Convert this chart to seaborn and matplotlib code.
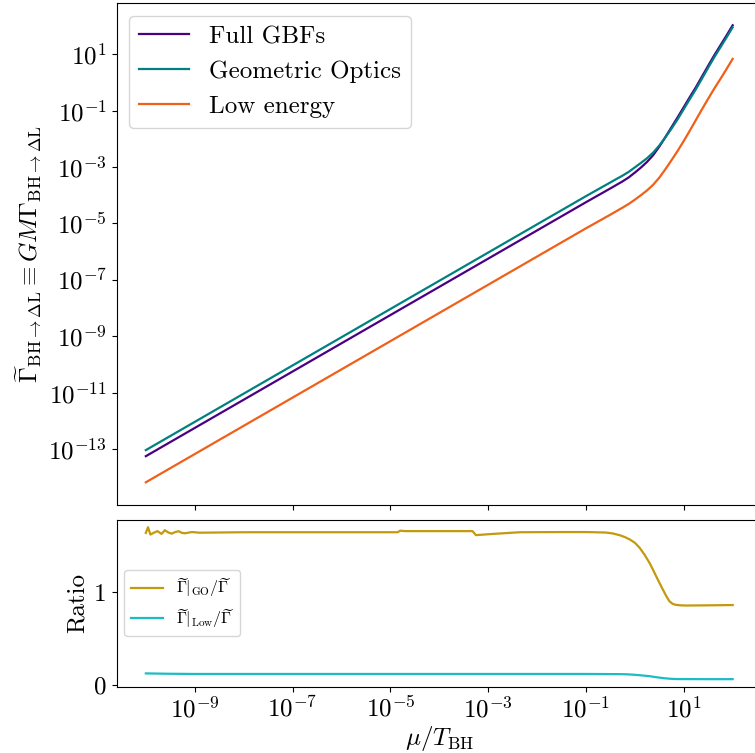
import numpy as np
import pandas as pd
import matplotlib
matplotlib.use("Agg")
import matplotlib.pyplot as plt
import seaborn as sns
from matplotlib.ticker import NullLocator

# ---------------- data ----------------
# top panel: mu/T_BH sample points (log10) and log10 of the rates
mu_top_exp = [-10, -9, -8, -7, -6, -5, -4, -3, -2, -1, -0.5, -0.375, -0.25, -0.125, 0, 0.125, 0.25,
              0.375, 0.5, 0.625, 0.75, 0.875, 1.0, 1.125, 1.25, 1.375, 1.5, 1.625, 1.75, 1.875, 2.0]
full_gbf_exp = [-13.25, -12.25, -11.25, -10.25, -9.25, -8.25, -7.25, -6.25, -5.25, -4.25, -3.76, -3.635,
                -3.51, -3.37, -3.20, -3.02, -2.82, -2.58, -2.28, -1.94, -1.59, -1.24, -0.88, -0.52,
                -0.17, 0.21, 0.59, 0.96, 1.31, 1.66, 2.02]
geo_optics_exp = [-13.035, -12.035, -11.035, -10.035, -9.035, -8.035, -7.035, -6.035, -5.035, -4.035,
                  -3.548, -3.425, -3.306, -3.174, -3.015, -2.856, -2.69, -2.49, -2.24, -1.95, -1.64,
                  -1.31, -0.95, -0.59, -0.24, 0.14, 0.52, 0.89, 1.24, 1.59, 1.95]
low_energy_exp = [-14.175, -13.175, -12.175, -11.175, -10.175, -9.175, -8.175, -7.175, -6.175, -5.175,
                  -4.69, -4.565, -4.44, -4.31, -4.16, -4.00, -3.83, -3.63, -3.38, -3.08, -2.76, -2.43,
                  -2.08, -1.71, -1.33, -0.95, -0.58, -0.22, 0.12, 0.47, 0.83]

# bottom panel: ratios
mu_go_exp = [-10.0, -9.955, -9.906, -9.83, -9.76, -9.68, -9.61, -9.54, -9.47, -9.40, -9.33, -9.26, -9.2,
             -9.06, -8.9, -8.0, -7.0, -6.0, -4.85, -4.80, -4.70, -4.0, -3.32, -3.25, -2.9, -2.35,
             -1.5, -1.0, -0.6, -0.45, -0.31, -0.2, -0.1, 0.0, 0.1, 0.2, 0.3, 0.39, 0.47, 0.54, 0.61,
             0.66, 0.71, 0.77, 0.83, 0.93, 1.05, 1.5, 2.0]
ratio_go = [1.636, 1.697, 1.618, 1.640, 1.655, 1.625, 1.665, 1.640, 1.628, 1.645, 1.654, 1.636, 1.632,
            1.645, 1.638, 1.643, 1.643, 1.643, 1.643, 1.660, 1.655, 1.655, 1.655, 1.612, 1.625, 1.643,
            1.645, 1.645, 1.640, 1.630, 1.611, 1.590, 1.564, 1.530, 1.474, 1.400, 1.313, 1.220, 1.133,
            1.060, 0.989, 0.940, 0.899, 0.874, 0.863, 0.857, 0.855, 0.857, 0.860]
mu_low_exp = [-10.0, -9.5, -9.0, -5.0, -1.0, -0.3, -0.15, 0.0, 0.15, 0.3, 0.4, 0.5, 0.6, 0.71, 0.8, 0.9,
              1.5, 2.0]
ratio_low = [0.125, 0.121, 0.119, 0.119, 0.119, 0.117, 0.115, 0.110, 0.103, 0.095, 0.087, 0.080, 0.073,
             0.068, 0.065, 0.064, 0.063, 0.063]

labels_top = ["Full GBFs", "Geometric Optics", "Low energy"]
colors_top = ["#4b0082", "#008080", "#f06018"]
labels_bot = [r"$\widetilde{\Gamma}|_{\rm GO}/\widetilde{\Gamma}$",
              r"$\widetilde{\Gamma}|_{\rm Low}/\widetilde{\Gamma}$"]
colors_bot = ["#c39a0c", "#1bbcc4"]

xticks = [1e-9, 1e-7, 1e-5, 1e-3, 1e-1, 1e1]
yticks_top = [1e-13, 1e-11, 1e-9, 1e-7, 1e-5, 1e-3, 1e-1, 1e1]
yticks_bot = [0, 1]

# ---------------- style ----------------
plt.rcParams.update({
    "font.family": "serif",
    "font.serif": ["cmr10", "DejaVu Serif"],
    "mathtext.fontset": "cm",
    "axes.formatter.use_mathtext": True,
    "axes.unicode_minus": False,
    "font.size": 18,
})

fig = plt.figure(figsize=(7.55, 7.53), dpi=100)
W, H = 755.0, 753.0
left = 116.5 / W
width = (762.0 - 116.5) / W
ax1 = fig.add_axes([left, 1 - 505 / H, width, (505 - 3) / H])
ax2 = fig.add_axes([left, 1 - 686.7 / H, width, (686.7 - 519.5) / H], sharex=ax1)

mu_top = 10.0 ** np.array(mu_top_exp)
top_series = [full_gbf_exp, geo_optics_exp, low_energy_exp]
frames = []
for lab, vals in zip(labels_top, top_series):
    frames.append(pd.DataFrame({"mu": mu_top, "rate": 10.0 ** np.array(vals), "curve": lab}))
df_top = pd.concat(frames, ignore_index=True)

sns.lineplot(data=df_top, x="mu", y="rate", hue="curve", hue_order=labels_top,
             palette=colors_top, ax=ax1, lw=1.6, sort=False)
ax1.set_xscale("log")
ax1.set_yscale("log")

df_bot = pd.concat([
    pd.DataFrame({"mu": 10.0 ** np.array(mu_go_exp), "ratio": ratio_go, "curve": labels_bot[0]}),
    pd.DataFrame({"mu": 10.0 ** np.array(mu_low_exp), "ratio": ratio_low, "curve": labels_bot[1]}),
], ignore_index=True)
sns.lineplot(data=df_bot, x="mu", y="ratio", hue="curve", hue_order=labels_bot,
             palette=colors_bot, ax=ax2, lw=1.6, sort=False)

ax1.set_xlim(10 ** -10.6, 10 ** 2.6)
ax1.set_ylim(10 ** -14.98, 10 ** 2.81)
ax2.set_ylim(-0.018, 1.78)

ax1.set_xticks(xticks)
ax1.xaxis.set_minor_locator(NullLocator())
ax1.set_yticks(yticks_top)
ax1.yaxis.set_minor_locator(NullLocator())
ax2.set_yticks(yticks_bot)
ax2.set_yticklabels([str(v) for v in yticks_bot])
ax1.tick_params(axis="x", labelbottom=False)
for ax in (ax1, ax2):
    ax.tick_params(labelsize=18)

ax1.set_xlabel("")
ax1.set_ylabel(r"$\widetilde{\Gamma}_{\rm BH\to\Delta L} \equiv GM\Gamma_{\rm BH\to\Delta L}$", fontsize=18)
ax2.set_ylabel("Ratio", fontsize=18)
ax2.set_xlabel(r"$\mu/T_{\rm BH}$", fontsize=18, labelpad=1)

ax1.legend(loc="upper left", fontsize=18, title=None)
ax2.legend(loc="center left", fontsize=11.5, title=None)

fig.savefig("out.png", dpi=100)
